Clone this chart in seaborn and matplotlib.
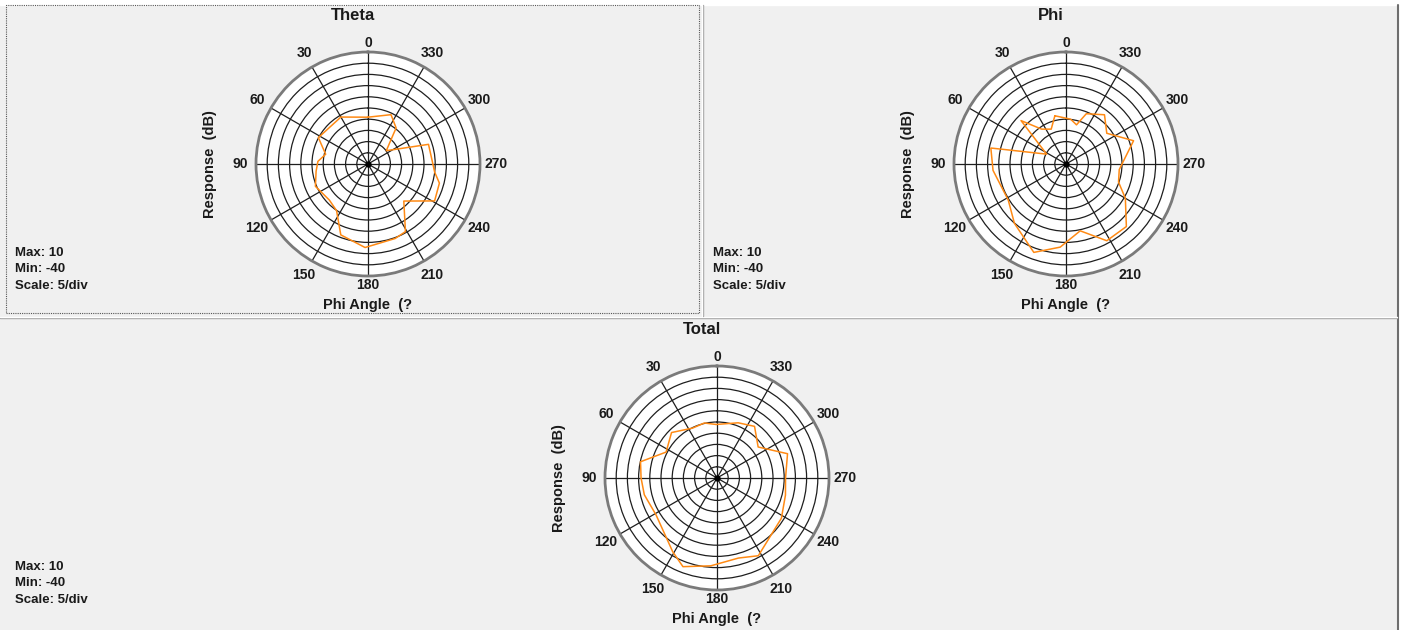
import numpy as np
import matplotlib
matplotlib.use("Agg")
import matplotlib.pyplot as plt
import seaborn as sns
from matplotlib.lines import Line2D
from matplotlib.patches import Rectangle

# ------------------------------------------ data ----------------------------------------------------------------------
# angle in degrees (0 at top, counter clockwise), response in dB
theta_angles = [0, 30, 62, 77, 87, 98, 113, 133, 146, 159, 178, 200, 209, 224, 241, 255, 263, 288, 306, 320, 322, 335]
theta_db = [-19.1, -15.8, -14.9, -20.6, -17.6, -16.6, -14.5, -16.4, -14.9, -6.1, -2.7, -4.6, -5.5, -17.0,
            -6.0, -7.0, -10.0, -11.6, -29.9, -22.1, -19.6, -15.7]

phi_angles = [13, 23, 35, 46, 63, 78, 95, 122, 139, 160, 176, 192, 208, 224, 240, 251, 264, 289, 307, 322, 338, 345, 354]
phi_db = [-17.9, -23.1, -21.0, -12.1, -30.3, -5.7, -7.3, -9.6, -4.9, 2.0, -2.8, -9.5, -1.2, -1.2, -9.4,
          -15.2, -16.1, -8.1, -17.2, -12.1, -15.8, -21.9, -19.9]

total_angles = [1, 13, 26, 45, 63, 78, 90, 103, 121, 149, 159, 176, 195, 208, 238, 256, 270, 289, 307, 324, 339]
total_db = [-16.1, -14.8, -15.2, -11.3, -14.5, -5.1, -6.1, -6.7, -8.2, -1.6, 2.4, -0.7, -3.0, -0.7, -6.1,
            -8.5, -9.4, -6.7, -17.0, -11.5, -13.6]

angle_ticks = [0, 30, 60, 90, 120, 150, 180, 210, 240, 270, 300, 330]
ring_ticks = [-35, -30, -25, -20, -15, -10, -5, 0, 5]
r_min, r_max = -40, 10

W, H = 1402, 630
R = 112  # polar radius in pixels


# ------------------------------------------ one polar panel -------------------------------------------------
def draw_polar(fig, title, angles, values, cx, cy, text_x, title_y):
    ax = fig.add_axes([(cx - R) / W, 1 - (cy + R) / H, 2 * R / W, 2 * R / H], projection='polar')
    ax.set_theta_zero_location('N')
    ax.set_theta_direction(1)
    ax.set_ylim(r_min, r_max)
    ax.set_facecolor('white')
    ax.set_xticks(np.deg2rad(angle_ticks))
    ax.set_xticklabels([])
    ax.set_yticks(ring_ticks)
    ax.set_yticklabels([])
    ax.grid(True, color='#1e1e1e', linewidth=0.9)
    ax.spines['polar'].set_color('#7a7a7a')
    ax.spines['polar'].set_linewidth(2)

    # closed curve
    th = np.deg2rad(angles + [angles[0] + 360])
    rr = values + [values[0]]
    sns.lineplot(x=th, y=rr, ax=ax, sort=False, estimator=None, color='#ff8a14', linewidth=1.1)
    ax.plot(0, r_min, 'o', color='black', markersize=3.5, clip_on=False)

    lab = dict(fontweight='bold', color='#1a1a1a')
    for a in angle_ticks:
        d = 121 if a in (0, 180) else 128
        r = r_min + (r_max - r_min) * d / R
        ax.text(np.deg2rad(a), r, str(a), ha='center', va='center', clip_on=False, fontsize=10, **lab)

    fig.text((cx - 15) / W, 1 - title_y / H, title, ha='center', va='center', fontsize=12, **lab)
    fig.text((cx - 158) / W, 1 - cy / H, 'Response  (dB)', rotation=90, ha='center', va='center',
             fontsize=10.5, **lab)
    fig.text(cx / W, 1 - (cy + 141) / H, 'Phi Angle  (?', ha='center', va='center', fontsize=10.5, **lab)
    for i, s in enumerate(['Max: 10', 'Min: -40', 'Scale: 5/div']):
        fig.text(text_x / W, 1 - (cy + 89 + i * 16.5) / H, s, ha='left', va='center', fontsize=9.5, **lab)
    return ax


def main():
    sns.set_theme(style='white')
    plt.rcParams['font.family'] = ['Liberation Sans', 'DejaVu Sans']
    fig = plt.figure(figsize=(W / 100, H / 100), dpi=100, facecolor='#f0f0f0')

    # window frame: white top strip, right border, panel separators
    fig.add_artist(Rectangle((0, 1 - 5 / H), 1, 5 / H, transform=fig.transFigure, color='white', zorder=0))
    fig.add_artist(Rectangle((1398 / W, 0), 4 / W, 1, transform=fig.transFigure, color='white', zorder=0))
    fig.add_artist(Line2D([1397.5 / W] * 2, [0, 1 - 5 / H], transform=fig.transFigure, color='#6e6e6e', lw=1.5))
    fig.add_artist(Line2D([0, 1397 / W], [1 - 318 / H] * 2, transform=fig.transFigure, color='#a0a0a0', lw=1))
    fig.add_artist(Line2D([0, 1397 / W], [1 - 316.5 / H] * 2, transform=fig.transFigure, color='white', lw=1))
    fig.add_artist(Line2D([703 / W] * 2, [1 - 5 / H, 1 - 316 / H], transform=fig.transFigure, color='#a0a0a0', lw=1))
    fig.add_artist(Line2D([701.5 / W] * 2, [1 - 5 / H, 1 - 316 / H], transform=fig.transFigure, color='white', lw=1))
    fig.add_artist(Rectangle((6 / W, 1 - 313 / H), 693 / W, 308 / H, transform=fig.transFigure, fill=False,
                             edgecolor='#555555', lw=0.8, linestyle=(0, (1, 1))))

    draw_polar(fig, 'Theta', theta_angles, theta_db, 368, 164, 15, 15)
    draw_polar(fig, 'Phi', phi_angles, phi_db, 1066, 164, 713, 15)
    draw_polar(fig, 'Total', total_angles, total_db, 717, 478, 15, 329)

    fig.savefig('out.png', dpi=100, facecolor=fig.get_facecolor())


if __name__ == "__main__":
    main()
